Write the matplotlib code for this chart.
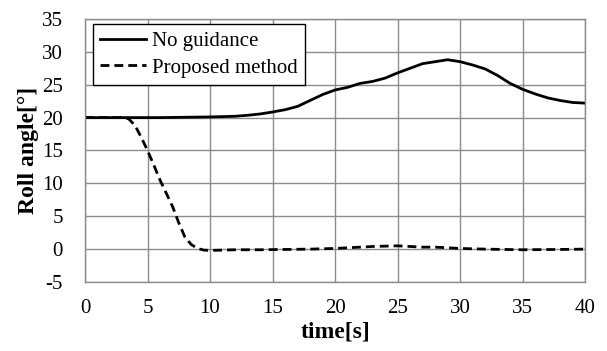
import matplotlib
matplotlib.use("Agg")
import matplotlib.pyplot as plt

t_no = [0, 2, 4, 6, 8, 10, 12, 13, 14, 15, 16, 17, 18, 19, 20, 21, 22, 23, 24, 25, 26, 27, 28, 29, 30, 31, 32, 33, 34, 35, 36, 37, 38, 39, 40]
no_guidance = [20.0, 20.0, 20.0, 20.0, 20.05, 20.1, 20.2, 20.35, 20.55, 20.85, 21.2, 21.7, 22.6, 23.5, 24.2, 24.6, 25.2, 25.5, 26.0, 26.8, 27.5, 28.2, 28.5, 28.8, 28.5, 28.0, 27.4, 26.4, 25.2, 24.3, 23.6, 23.0, 22.6, 22.3, 22.2]

t_pm = [0, 1, 2, 3, 3.5, 4, 4.5, 5, 5.5, 6, 6.5, 7, 7.5, 8, 8.5, 9, 9.5, 10, 12, 14, 16, 18, 20, 22, 23, 25, 27, 28, 30, 32, 35, 38, 40]
proposed = [20.0, 20.0, 20.0, 20.0, 19.8, 18.8, 17.0, 15.0, 12.8, 10.5, 8.5, 6.5, 4.0, 1.8, 0.7, 0.1, -0.15, -0.2, -0.1, -0.1, -0.05, 0.0, 0.1, 0.3, 0.4, 0.5, 0.3, 0.3, 0.1, 0.0, -0.1, -0.05, 0.0]

x_ticks = [0, 5, 10, 15, 20, 25, 30, 35, 40]
y_ticks = [-5, 0, 5, 10, 15, 20, 25, 30, 35]

plt.rcParams['font.family'] = ['Liberation Serif', 'DejaVu Serif']
plt.rcParams['axes.unicode_minus'] = False

fig = plt.figure(figsize=(6.07, 3.51), dpi=100)
ax = fig.add_axes([0.14, 0.1966, 0.824, 0.7494])

ax.plot(t_no, no_guidance, color='black', lw=2.0, label='No guidance')
ax.plot(t_pm, proposed, color='black', lw=2.0, ls=(0, (3.2, 1.8)), label='Proposed method')

ax.set_xlim(0, 40)
ax.set_ylim(-5, 35)
ax.set_xticks(x_ticks)
ax.set_yticks(y_ticks)
ax.grid(True, color='#8c8c8c', lw=1.0)
ax.set_axisbelow(True)
for s in ax.spines.values():
    s.set_color('#8c8c8c')
    s.set_linewidth(1.0)
ax.tick_params(axis='x', length=0, labelsize=15, pad=12)
ax.tick_params(axis='y', length=0, labelsize=15, pad=16)
ax.set_xlabel('time[s]', fontsize=17, fontweight='bold', labelpad=3)
ax.set_ylabel('Roll angle[°]', fontsize=17, fontweight='bold', labelpad=2)

leg = ax.legend(loc='upper left', bbox_to_anchor=(0.016, 0.981), fontsize=15,
                frameon=True, fancybox=False, edgecolor='black', framealpha=1,
                handlelength=2.2, handletextpad=0.3, borderpad=0.35, labelspacing=0.35,
                borderaxespad=0)
leg.get_frame().set_linewidth(1.0)

fig.savefig('out.png', dpi=100)
